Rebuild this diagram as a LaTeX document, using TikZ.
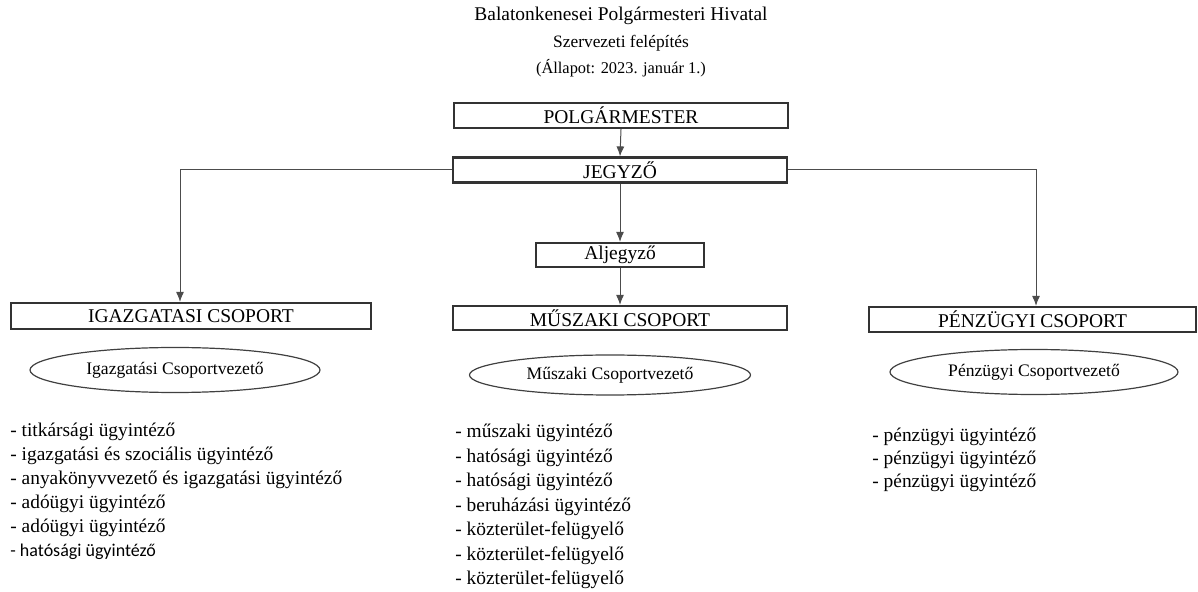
\documentclass[tikz,border=0pt]{standalone}
\usepackage{fontspec}
\setmainfont{Liberation Serif}
\newfontfamily\carlito{Carlito}
\usetikzlibrary{arrows.meta,shapes.geometric}

\begin{document}
\begin{tikzpicture}[x=0.5pt,y=-0.5pt,>={Latex[length=5pt,width=4pt]},
  unit/.style={draw=black!80,line width=1.1pt,minimum height=12.5pt,inner sep=0pt,font=\fontsize{9.75}{11}\selectfont},
  lead/.style={ellipse,draw=black!75,line width=0.6pt,inner sep=0pt,font=\fontsize{8.8}{10}\selectfont},
  staff/.style={anchor=north west,align=left,inner sep=0pt,font=\fontsize{9.7}{12}\selectfont},
  link/.style={->,draw=black!70,line width=0.5pt}]
  \useasboundingbox (0,0) rectangle (1198,592);

  % title
  \node[font=\fontsize{9.7}{11}\selectfont] (hivatal) at (621,16) {Balatonkenesei Polgármesteri Hivatal};
  \node[font=\fontsize{8.7}{10}\selectfont] (szerv) at (621,43) {Szervezeti felépítés};
  \node[font=\fontsize{8.2}{10}\selectfont] (allapot) at (621,68) {(Állapot: 2023. január 1.)};

  % leaders and groups
  \node[unit,minimum width=167pt] (polg) at (621,115.5) {POLGÁRMESTER};
  \node[unit,minimum width=167pt] (jegyzo) at (620,170) {JEGYZŐ};
  \node[unit,minimum width=84pt,minimum height=12pt] (aljegyzo) at (620,255) {Aljegyző};
  \node[unit,minimum width=180pt,minimum height=13pt] (igazg) at (191,316) {IGAZGATASI CSOPORT};
  \node[unit,minimum width=167pt,minimum height=12pt] (muszaki) at (620,318) {MŰSZAKI CSOPORT};
  \node[unit,minimum width=163.5pt] (penz) at (1032.5,319.5) {PÉNZÜGYI CSOPORT};

  \node[lead,minimum width=145pt,minimum height=22.5pt] (igazgvez) at (175,370) {Igazgatási Csoportvezető};
  \node[lead,minimum width=140.5pt,minimum height=20pt] (muszvez) at (610,375) {Műszaki Csoportvezető};
  \node[lead,minimum width=144pt,minimum height=22.5pt] (penzvez) at (1034,372) {Pénzügyi Csoportvezető};

  % staff lists
  \node[staff] (igazglist) at (10,423) {- titkársági ügyintéző\\
    - igazgatási és szociális ügyintéző\\
    - anyakönyvvezető és igazgatási ügyintéző\\
    - adóügyi ügyintéző\\
    - adóügyi ügyintéző\\
    {\carlito\fontsize{9}{12}\selectfont - hatósági ügyintéző}};
  \node[staff,font=\fontsize{9.7}{12.25}\selectfont] (muszlist) at (455,424) {- műszaki ügyintéző\\
    - hatósági ügyintéző\\
    - hatósági ügyintéző\\
    - beruházási ügyintéző\\
    - közterület-felügyelő\\
    - közterület-felügyelő\\
    - közterület-felügyelő};
  \node[staff,font=\fontsize{9.7}{11.4}\selectfont] (penzlist) at (872,428) {- pénzügyi ügyintéző\\
    - pénzügyi ügyintéző\\
    - pénzügyi ügyintéző};

  % connectors
  \draw[link] (polg.south) -- (jegyzo.north);
  \draw[link] (jegyzo.west) -| ([xshift=-5.5pt]igazg.north);
  \draw[link] (jegyzo.east) -| ([xshift=1.75pt]penz.north);
  \draw[link] (jegyzo.south) -- (aljegyzo.north);
  \draw[link] (aljegyzo.south) -- (aljegyzo.south |- muszaki.north);
\end{tikzpicture}
\end{document}
